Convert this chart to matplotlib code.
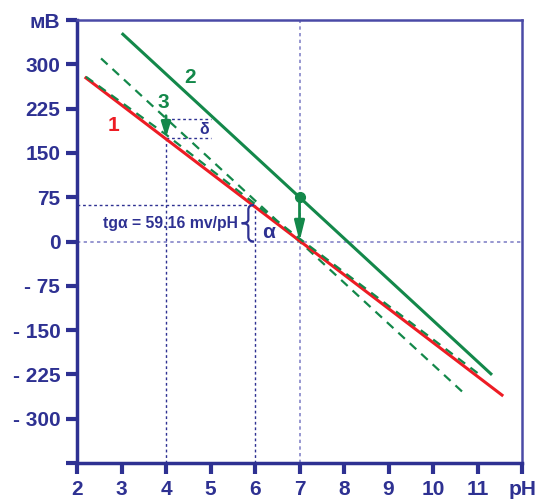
import matplotlib
matplotlib.use("Agg")
from matplotlib import pyplot as plt
from matplotlib.path import Path
from matplotlib.patches import PathPatch

plt.rcParams['font.family'] = ['Liberation Sans', 'DejaVu Sans']

navy = '#2e3192'
light = '#8585c8'
red = '#ed1c24'
green = '#13884a'

# axis ticks and labels
xticks = [2, 3, 4, 5, 6, 7, 8, 9, 10, 11, 12]
xlabels = ['2', '3', '4', '5', '6', '7', '8', '9', '10', '11', 'pH']
yticks = [375, 300, 225, 150, 75, 0, -75, -150, -225, -300, -375]
ylabels = ['мВ', '300', '225', '150', '75', '0', '- 75', '- 150', '- 225', '- 300', '']

# lines (pH, mV)
line1_ph = [2.2, 11.55]
line1_mv = [277, -260]
line2_ph = [3.03, 11.3]
line2_mv = [351, -224]
line3a_ph = [2.54, 10.74]     # shifted dashed line
line3a_mv = [310, -260]
line3b_ph = [2.2, 4.0, 7.0, 11.06]   # dashed line close to 1
line3b_mv = [279, 181, 5, -226]

# marked points
dot_ph, dot_mv = 7, 76
delta_ph, delta_top, delta_bot = 4, 207, 176
tg_ph, tg_mv = 6, 62

fig = plt.figure(figsize=(5.39, 5.01), dpi=100)
ax = fig.add_axes([0.1429, 0.0758, 0.8256, 0.8842])
ax.set_xlim(2, 12)
ax.set_ylim(-375, 375)

dot = (0, (2, 2))
# helper dotted lines
ax.plot([7, 7], [-375, 375], color=light, lw=1.2, ls=dot, zorder=1)
ax.plot([2, 12], [0, 0], color=light, lw=1.2, ls=dot, zorder=1)
ax.plot([delta_ph, delta_ph], [-375, delta_bot], color=navy, lw=1, ls=dot, zorder=1)
ax.plot([tg_ph, tg_ph], [-375, tg_mv], color=navy, lw=1, ls=dot, zorder=1)
ax.plot([2, tg_ph], [tg_mv, tg_mv], color=navy, lw=1, ls=dot, zorder=1)
ax.plot([delta_ph, 5], [delta_top, delta_top], color=navy, lw=1, ls=dot, zorder=1)
ax.plot([delta_ph, 5], [delta_bot, delta_bot], color=navy, lw=1, ls=dot, zorder=1)

ax.plot(line2_ph, line2_mv, color=green, lw=2.2, zorder=3)
ax.plot(line3a_ph, line3a_mv, color=green, lw=1.6, ls=(0, (4, 3)), zorder=3)
ax.plot(line1_ph, line1_mv, color=red, lw=2.2, zorder=3)
ax.plot(line3b_ph, line3b_mv, color=green, lw=1.6, ls=(0, (4, 3)), zorder=4)

ax.plot([dot_ph], [dot_mv], 'o', color=green, ms=7, zorder=5)
ax.annotate('', xy=(dot_ph, 0), xytext=(dot_ph, dot_mv),
            arrowprops=dict(arrowstyle='-|>,head_width=0.3,head_length=1.2',
                            color=green, lw=2, shrinkA=0, shrinkB=0), zorder=5)
ax.annotate('', xy=(delta_ph, delta_bot), xytext=(delta_ph, delta_top + 6),
            arrowprops=dict(arrowstyle='-|>,head_width=0.28,head_length=0.9',
                            color=green, lw=2, shrinkA=0, shrinkB=0), zorder=5)

ax.text(2.81, 196, '1', color=red, fontsize=15, fontweight='bold', ha='center', va='center')
ax.text(4.54, 277, '2', color=green, fontsize=15, fontweight='bold', ha='center', va='center')
ax.text(3.93, 236, '3', color=green, fontsize=15, fontweight='bold', ha='center', va='center')
ax.text(4.85, 190, 'δ', color=navy, fontsize=11.5, fontweight='bold', ha='center', va='center')
ax.text(5.62, 31, 'tgα = 59.16 mv/pH', color=navy, fontsize=11.3, fontweight='bold',
        ha='right', va='center')
ax.text(6.3, 16, 'α', color=navy, fontsize=15, fontweight='bold', ha='center', va='center')

# curly brace between 0 and tg line
verts = [(5.98, 62), (5.85, 62), (5.85, 54), (5.85, 37), (5.85, 31), (5.70, 31),
         (5.85, 31), (5.85, 25), (5.85, 8), (5.85, 0), (5.98, 0)]
codes = [Path.MOVETO, Path.CURVE3, Path.CURVE3, Path.LINETO, Path.CURVE3, Path.CURVE3,
         Path.CURVE3, Path.CURVE3, Path.LINETO, Path.CURVE3, Path.CURVE3]
ax.add_patch(PathPatch(Path(verts, codes), fill=False, edgecolor=navy, lw=1.6, zorder=4))

ax.set_xticks(xticks)
ax.set_xticklabels(xlabels)
ax.set_yticks(yticks)
ax.set_yticklabels(ylabels)
ax.tick_params(colors=navy, width=3, length=8, labelsize=15, pad=4)
for lab in ax.get_xticklabels() + ax.get_yticklabels():
    lab.set_fontweight('bold')
    lab.set_color(navy)

for side in ['left', 'bottom']:
    ax.spines[side].set_color(navy)
    ax.spines[side].set_linewidth(2.5)
for side in ['top', 'right']:
    ax.spines[side].set_color('#4a4aa6')
    ax.spines[side].set_linewidth(1.8)

fig.savefig('out.png', dpi=100)
